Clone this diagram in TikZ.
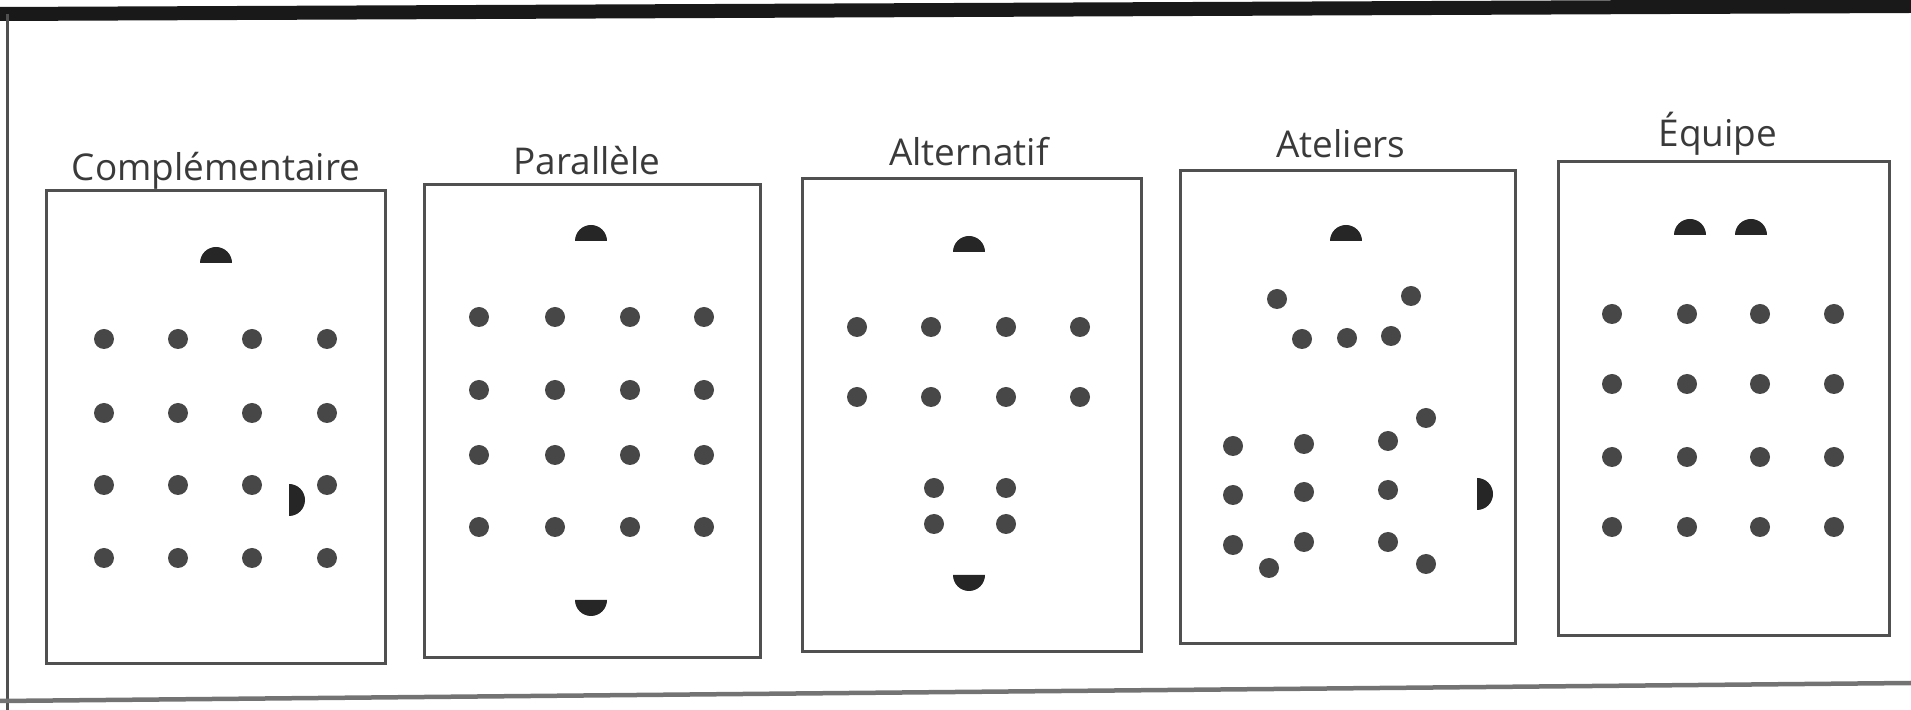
\documentclass[tikz,border=0pt]{standalone}
\usepackage{fontspec}
\setmainfont{Open Sans}
\usepackage{tikz}
\definecolor{inkgray}{HTML}{3A3A3A}
\definecolor{dotgray}{HTML}{474747}
\definecolor{framegray}{HTML}{505050}
\tikzset{
  title/.style={font=\fontsize{10.5}{12}\selectfont,text=inkgray,inner sep=0pt},
  panel/.style={draw=framegray,line width=0.3mm},
  pupil/.style={fill=dotgray},
  teacher/.style={fill=black!85}
}
% half discs: flat side down, flat side up, flat side left
\newcommand{\domeup}[2]{\fill[teacher] (#1-16,#2) arc (180:360:16) -- cycle;}
\newcommand{\domedown}[2]{\fill[teacher] (#1-16,#2) arc (180:0:16) -- cycle;}
\newcommand{\domeside}[2]{\fill[teacher] (#1,#2-16) arc (270:450:16) -- cycle;}
\newcommand{\pupil}[2]{\fill[pupil] (#1,#2) circle (10);}

\begin{document}
\begin{tikzpicture}[x=0.1mm,y=-0.1mm]
\useasboundingbox (0,0) rectangle (1911,710);
% outer frame
\draw[line width=1.4mm,black!90] (0,14) -- (1911,6);
\draw[line width=0.3mm,framegray] (7,14) -- (7,710);
\draw[line width=0.45mm,framegray!80] (0,701) -- (1911,683);

% titles
\node[title] (tcompl) at (216,171) {Complémentaire};
\node[title] (tparal) at (587,161) {Parallèle};
\node[title] (taltern) at (969,152) {Alternatif};
\node[title] (tatel) at (1341,144) {Ateliers};
\node[title] (tequipe) at (1718,134) {Équipe};

% panels
\draw[panel] (46,191) rectangle (385,664);
\draw[panel] (424,185) rectangle (760,658);
\draw[panel] (802,179) rectangle (1141,652);
\draw[panel] (1180,171) rectangle (1515,644);
\draw[panel] (1558,162) rectangle (1889,636);

% Complementaire
\domeup{216}{263}
\foreach \x in {104,178,252,327}
  \foreach \y in {339,413,485,558}
    {\pupil{\x}{\y}}
\domeside{289}{500}

% Parallele
\domeup{591}{241}
\foreach \x in {479,555,630,704}
  \foreach \y in {317,390,455,527}
    {\pupil{\x}{\y}}
\domedown{591}{600}

% Alternatif
\domeup{969}{252}
\foreach \x in {857,931,1006,1080}
  \foreach \y in {327,397}
    {\pupil{\x}{\y}}
\foreach \x in {934,1006}
  \foreach \y in {488,524}
    {\pupil{\x}{\y}}
\domedown{969}{575}

% Ateliers
\domeup{1346}{241}
\foreach \x/\y in {1277/299,1411/296,1302/339,1347/338,1391/336}
  {\pupil{\x}{\y}}
\foreach \x/\y in {1233/446,1304/444,1388/441,1426/418,1233/495,1304/492,1388/490,
                   1233/545,1269/568,1304/542,1388/542,1426/564}
  {\pupil{\x}{\y}}
\domeside{1477}{494}

% Equipe
\domeup{1690}{235}
\domeup{1751}{235}
\foreach \x in {1612,1687,1760,1834}
  \foreach \y in {314,384,457,527}
    {\pupil{\x}{\y}}
\end{tikzpicture}
\end{document}
